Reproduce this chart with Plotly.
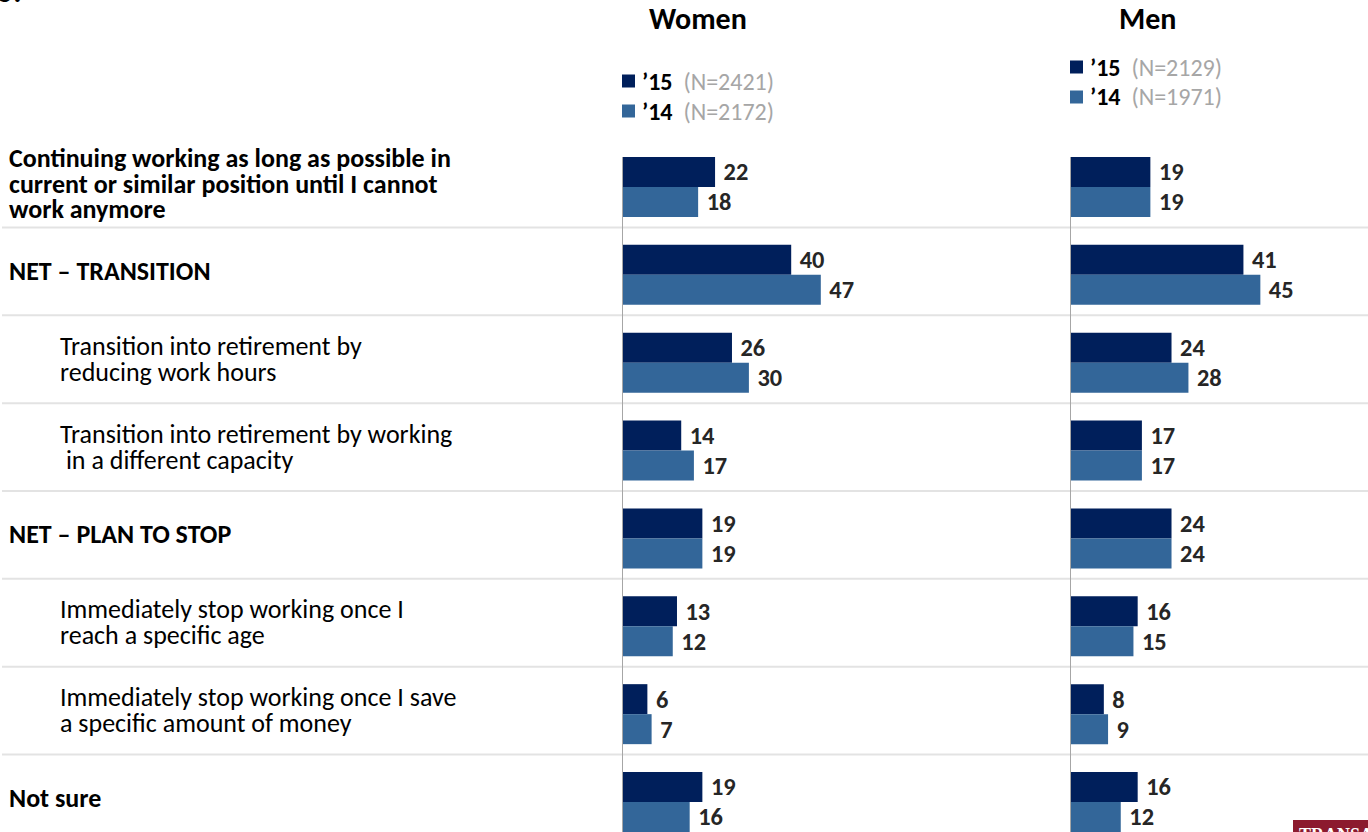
import plotly.graph_objects as go

# ---------------- data ----------------
categories = [
    "Continuing working as long as possible in<br>current or similar position until I cannot<br>work anymore",
    "NET – TRANSITION",
    "Transition into retirement by<br>reducing work hours",
    "Transition into retirement by working<br> in a different capacity",
    "NET – PLAN TO STOP",
    "Immediately stop working once I<br>reach a specific age",
    "Immediately stop working once I save<br>a specific amount of money",
    "Not sure",
]
is_subitem = [False, False, True, True, False, True, True, False]

panels = ["Women", "Men"]
years = ["’15", "’14"]
women_15 = [22, 40, 26, 14, 19, 13, 6, 19]
women_14 = [18, 47, 30, 17, 19, 12, 7, 16]
men_15 = [19, 41, 24, 17, 24, 16, 8, 16]
men_14 = [19, 45, 28, 17, 24, 15, 9, 12]
women_n = [2421, 2172]
men_n = [2129, 1971]

# ---------------- style ----------------
W, H = 1368, 832
FONT = "Calibri, Carlito, Lato, sans-serif"
C15 = "#001f5b"
C14 = "#336699"
LABEL_C = "#262626"
GRID_C = "#e3e3e3"
AXIS_C = "#a6a6a6"

def px_x(x):
    return x / W

def px_y(y):
    return 1 - y / H

# y-mapping: row i centre at pixel 187 + 87.86*i
ROW0, ROWH = 187.0, 87.86
y_top = -ROW0 / ROWH
y_bot = (H - ROW0) / ROWH
BARW = 30 / ROWH

ypos = list(range(len(categories)))

fig = go.Figure()

series = [
    ("x", women_15, women_14),
    ("x2", men_15, men_14),
]
for xa, v15, v14 in series:
    for vals, col, off, nm in [(v15, C15, -BARW, years[0]), (v14, C14, 0, years[1])]:
        fig.add_trace(go.Bar(
            x=vals, y=ypos, orientation="h", xaxis=xa, yaxis="y",
            width=BARW, offset=off, marker=dict(color=col, line=dict(width=0)),
            text=vals, texttemplate="\u00a0%{x}", textposition="outside",
            textfont=dict(family=FONT, size=26, color=LABEL_C, weight="bold"),
            cliponaxis=False, showlegend=False, name=nm, hoverinfo="x",
        ))

XMAX = 50
SCALE = 4.23  # px per unit
women_x0, men_x0 = 622, 1070
axis_common = dict(range=[0, XMAX], showgrid=False, zeroline=False,
                   showticklabels=False, ticks="", showline=False, fixedrange=True)
fig.update_layout(
    xaxis=dict(domain=[px_x(women_x0), px_x(women_x0 + XMAX * SCALE)], anchor="y", **axis_common),
    xaxis2=dict(domain=[px_x(men_x0), px_x(men_x0 + XMAX * SCALE)], anchor="y", **axis_common),
    yaxis=dict(range=[y_bot, y_top], domain=[0, 1], showgrid=False, zeroline=False,
               showticklabels=False, ticks="", showline=False, fixedrange=True),
)

shapes = []
# separators between rows
for i in range(len(categories) - 1):
    yy = i + 0.46
    shapes.append(dict(type="line", xref="paper", yref="y", x0=px_x(2), x1=1,
                       y0=yy, y1=yy, line=dict(color=GRID_C, width=2), layer="below"))
# vertical axis lines
for xr in ["x", "x2"]:
    shapes.append(dict(type="line", xref=xr, yref="y", x0=0, x1=0,
                       y0=-BARW, y1=y_bot, line=dict(color=AXIS_C, width=2), layer="above"))

annotations = []
# category labels: tight line spacing (25.5 px) with 26 px glyphs
LINE_H = 25.5
GLYPH = 26
for i, (cat, sub) in enumerate(zip(categories, is_subitem)):
    lines = cat.split("<br>")
    parts = []
    for ln in lines:
        t = ln.replace(" ", "\u00a0", 1) if ln.startswith(" ") else ln
        t = f"<span style='font-size:{GLYPH}px'>{t}</span>"
        parts.append(t if sub else f"<b>{t}</b>")
    annotations.append(dict(
        xref="paper", yref="paper", x=px_x(58 if sub else 7), y=px_y(ROW0 + ROWH * i - 4),
        xanchor="left", yanchor="middle", align="left", showarrow=False,
        text="<br>".join(parts),
        font=dict(family=FONT, size=LINE_H / 1.3, color="#000000"),
    ))

# panel titles
for name, cx in zip(panels, [698, 1147]):
    annotations.append(dict(xref="paper", yref="paper", x=px_x(cx), y=px_y(18),
                            xanchor="center", yanchor="middle", showarrow=False,
                            text=f"<b>{name}</b>", font=dict(family=FONT, size=30, color="#000000")))

# legends
legend_specs = [(women_x0, 81, women_n), (men_x0, 67, men_n)]
for x0, ytop, ns in legend_specs:
    for k, (yr, n, col) in enumerate(zip(years, ns, [C15, C14])):
        cy = ytop + 30 * k
        shapes.append(dict(type="rect", xref="paper", yref="paper",
                           x0=px_x(x0), x1=px_x(x0 + 13), y0=px_y(cy - 6.5), y1=px_y(cy + 6.5),
                           fillcolor=col, line=dict(width=0)))
        annotations.append(dict(xref="paper", yref="paper", x=px_x(x0 + 18), y=px_y(cy),
                                xanchor="left", yanchor="middle", showarrow=False,
                                text=f"<b>{yr}</b>\u00a0\u00a0<span style='color:#a6a6a6'>(N={n})</span>",
                                font=dict(family=FONT, size=24, color="#000000")))

# partial heading glyph at top-left (cut off in the original)
annotations.append(dict(xref="paper", yref="paper", x=px_x(-4), y=px_y(12),
                        xanchor="left", yanchor="bottom", showarrow=False,
                        text="<b>5:</b>", font=dict(family=FONT, size=30, color="#000000")))

# corner logo (cut off)
shapes.append(dict(type="rect", xref="paper", yref="paper",
                   x0=px_x(1293), x1=1, y0=0, y1=px_y(820),
                   fillcolor="#8c1a2e", line=dict(width=0)))
annotations.append(dict(xref="paper", yref="paper", x=px_x(1297), y=px_y(823),
                        xanchor="left", yanchor="top", showarrow=False,
                        text="<b>TRANSAMERICA</b>",
                        font=dict(family="Liberation Serif, serif", size=18, color="#ffffff")))

fig.update_layout(
    width=W, height=H, autosize=False,
    margin=dict(l=0, r=0, t=0, b=0, pad=0),
    paper_bgcolor="white", plot_bgcolor="white",
    barmode="overlay",
    shapes=shapes, annotations=annotations,
    font=dict(family=FONT),
    showlegend=False,
)

fig.write_html("out.html", config={"displayModeBar": False},
               post_script="document.body.style.margin='0';document.body.style.overflow='hidden';")
